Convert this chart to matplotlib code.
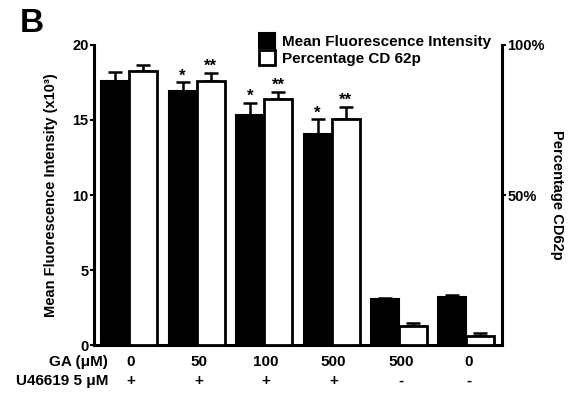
import numpy as np
import matplotlib.pyplot as plt
import matplotlib.transforms as mtransforms

plt.rcParams['font.family'] = ['Liberation Sans', 'DejaVu Sans']
plt.rcParams['font.weight'] = 'bold'
plt.rcParams['axes.labelweight'] = 'bold'

# --- data ---
ga_labels = ['0', '50', '100', '500', '500', '0']
u466_labels = ['+', '+', '+', '+', '-', '-']
mfi = [17.6, 16.95, 15.33, 14.1, 3.07, 3.22]          # x10^3
mfi_err = [0.6, 0.55, 0.82, 0.94, 0.08, 0.09]
pct = [91.3, 87.9, 82.0, 75.3, 6.4, 3.1]              # %
pct_err = [2.0, 2.9, 2.4, 4.1, 0.8, 0.8]
mfi_stars = ['', '*', '*', '*', '', '']
pct_stars = ['', '**', '**', '**', '', '']
stray_point = (2.26, 6.27)

x = np.arange(len(ga_labels))
w = 0.415

fig = plt.figure(figsize=(5.75, 3.98), dpi=100)
ax = fig.add_axes([0.1635, 0.133, 0.7095, 0.754])
ax2 = ax.twinx()

ax.bar(x - w / 2, mfi, w, color='black', edgecolor='black', linewidth=1.5,
       label='Mean Fluorescence Intensity', zorder=3)
ax.errorbar(x - w / 2, mfi, yerr=[np.zeros(len(mfi)), mfi_err], fmt='none',
            ecolor='black', elinewidth=1.8, capsize=5, capthick=1.8, zorder=2)
ax2.bar(x + w / 2, pct, w, color='white', edgecolor='black', linewidth=2.0,
        label='Percentage CD 62p', zorder=3)
ax2.errorbar(x + w / 2, pct, yerr=[np.zeros(len(pct)), pct_err], fmt='none',
             ecolor='black', elinewidth=1.8, capsize=5, capthick=1.8, zorder=2)

for xi, v, e, s in zip(x, mfi, mfi_err, mfi_stars):
    if s:
        ax.annotate(s, (xi - w / 2, v + e), xytext=(0, -1), textcoords='offset points',
                    ha='center', va='bottom', fontsize=12)
for xi, v, e, s in zip(x, pct, pct_err, pct_stars):
    if s:
        ax2.annotate(s, (xi + w / 2, v + e), xytext=(0, -1), textcoords='offset points',
                     ha='center', va='bottom', fontsize=12)

ax.plot([stray_point[0]], [stray_point[1]], 's', color='black', ms=4, zorder=4)

ax.set_xlim(-0.52, 5.526)
ax.set_ylim(0, 20)
ax2.set_ylim(0, 100)
ax.set_yticks([0, 5, 10, 15, 20])
ax2.set_yticks([50, 100])
ax2.set_yticklabels(['50%', '100%'])
ax.set_xticks([])

for a in (ax, ax2):
    a.spines['top'].set_visible(False)
    for sp in ('left', 'right', 'bottom'):
        a.spines[sp].set_linewidth(2.2)
    a.tick_params(axis='y', width=1.5, length=3, labelsize=10.5, pad=1)
ax2.spines['left'].set_visible(False)
ax.spines['right'].set_visible(False)
ax2.spines['bottom'].set_visible(False)
for lab in ax.get_yticklabels() + ax2.get_yticklabels():
    lab.set_fontweight('bold')

ax.set_ylabel('Mean Fluorescence Intensity (x10\u00b3)', fontsize=10.5, labelpad=10)
ax2.set_ylabel('Percentage CD62p', fontsize=10.5, rotation=270, labelpad=14)

# legend
h1, l1 = ax.get_legend_handles_labels()
h2, l2 = ax2.get_legend_handles_labels()
leg = ax2.legend(h1 + h2, l1 + l2, loc='upper left', bbox_to_anchor=(0.39, 1.06),
                 frameon=False, fontsize=11, handlelength=1.0, handleheight=1.1,
                 handletextpad=0.5, labelspacing=0.1, borderaxespad=0)

# condition rows under the axis
trans = mtransforms.blended_transform_factory(ax.transData, fig.transFigure)
for xi, g, u in zip(x, ga_labels, u466_labels):
    ax.text(xi + 0.03, 0.09, g, transform=trans, ha='center', va='center', fontsize=11)
    ax.text(xi + 0.03, 0.043, u, transform=trans, ha='center', va='center', fontsize=11)
fig.text(108 / 575, 0.09, 'GA (\u03bcM)', ha='right', va='center', fontsize=11)
fig.text(108 / 575, 0.043, 'U46619 5 \u03bcM', ha='right', va='center', fontsize=11)

fig.text(20 / 575, 1 - 24 / 398, 'B', ha='left', va='center', fontsize=24)

fig.savefig('out.png', dpi=100)
